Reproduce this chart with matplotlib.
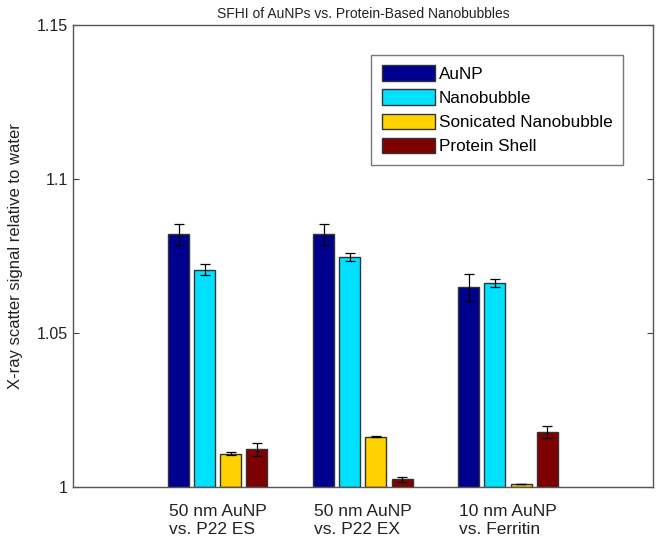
import numpy as np
import matplotlib
matplotlib.use('Agg')
import matplotlib.pyplot as plt

plt.rcParams['font.family'] = ['Liberation Sans', 'DejaVu Sans']

# данные
groups = ['50 nm AuNP\nvs. P22 ES', '50 nm AuNP\nvs. P22 EX', '10 nm AuNP\nvs. Ferritin']
series = ['AuNP', 'Nanobubble', 'Sonicated Nanobubble', 'Protein Shell']
aunp = [1.0820, 1.0820, 1.0648]
nanobubble = [1.0705, 1.0748, 1.0662]
sonicated = [1.0108, 1.0163, 1.0010]
shell = [1.0122, 1.0025, 1.0178]
aunp_err = [0.0035, 0.0035, 0.0043]
nanobubble_err = [0.0018, 0.0013, 0.0013]
sonicated_err = [0.0005, 0.0002, 0.0]
shell_err = [0.0022, 0.0007, 0.0020]

colors = ['#00008F', '#00E1FF', '#FFD200', '#7F0000']

values = [aunp, nanobubble, sonicated, shell]
errors = [aunp_err, nanobubble_err, sonicated_err, shell_err]

fig = plt.figure(figsize=(6.61, 5.43), dpi=100)
ax = fig.add_axes([0.110, 0.103, 0.878, 0.851])

x = np.arange(1, len(groups) + 1)
offsets = [-0.27, -0.09, 0.09, 0.27]
w = 0.145
for i in range(4):
    vals = np.array(values[i])
    ax.bar(x + offsets[i], vals - 1, width=w, bottom=1, color=colors[i],
           edgecolor='#333333', linewidth=1.0, label=series[i], zorder=2)
    ax.errorbar(x + offsets[i], vals, yerr=errors[i], fmt='none', ecolor='black',
                elinewidth=0.9, capsize=3.5, capthick=0.9, zorder=3)

ax.set_xlim(0, 4)
ax.set_ylim(1.0, 1.15)
ax.set_yticks([1.0, 1.05, 1.1, 1.15])
ax.set_yticklabels(['1', '1.05', '1.1', '1.15'])
ax.set_xticks(x)
ax.set_xticklabels(groups, multialignment='left', linespacing=1.3)
ax.tick_params(axis='both', direction='in', colors='#444444',
               labelcolor='#222222', length=4, right=True, top=False)
ax.tick_params(axis='y', labelsize=11.5)
ax.tick_params(axis='x', length=0, pad=12, labelsize=12.5)
for s in ax.spines.values():
    s.set_color('#555555')
    s.set_linewidth(1.0)

ax.set_title('SFHI of AuNPs vs. Protein-Based Nanobubbles', fontsize=10, color='#222222', pad=5)
ax.set_ylabel('X-ray scatter signal relative to water', fontsize=12, color='#222222', labelpad=10)

leg = ax.legend(loc='upper right', bbox_to_anchor=(0.948, 0.935), fontsize=12.3, frameon=True,
                fancybox=False, edgecolor='#555555', handlelength=3.1, handleheight=1.0,
                handletextpad=0.25, labelspacing=0.45, borderpad=0.6, borderaxespad=0)
leg.get_frame().set_linewidth(1.0)

plt.savefig('out.png', dpi=100)
